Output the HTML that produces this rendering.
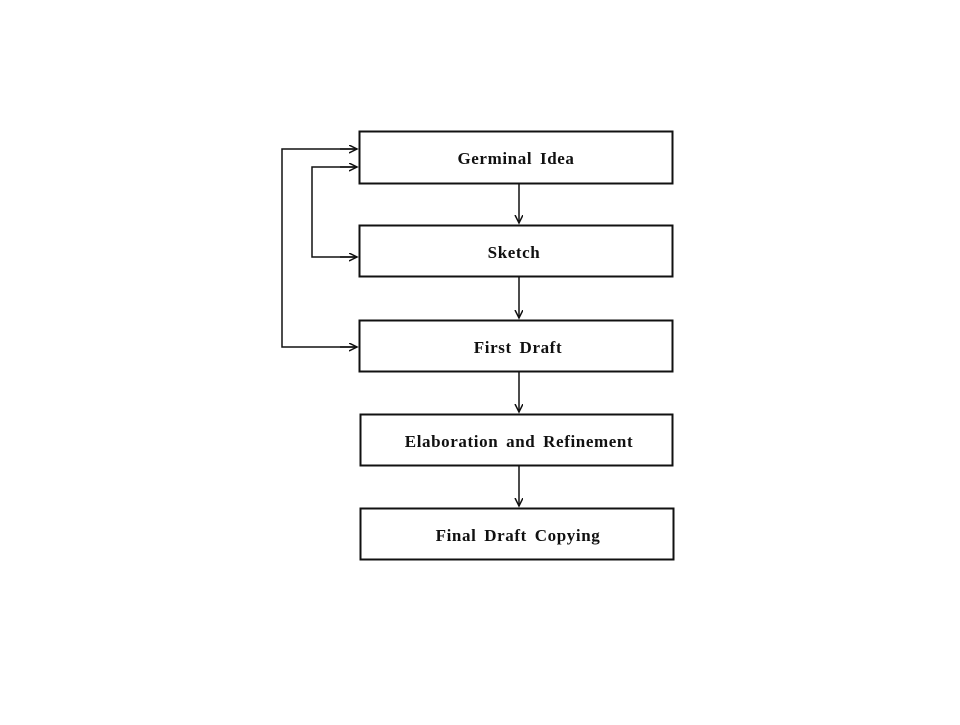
<!DOCTYPE html>
<html><head><style>
body{margin:0;background:#fff;}
text{font-family:"Liberation Serif",serif;font-weight:bold;font-size:17px;letter-spacing:0.6px;word-spacing:3px;fill:#111;}
</style></head><body>
<svg width="960" height="720" viewBox="0 0 960 720" xmlns="http://www.w3.org/2000/svg">
<defs><marker id="a" markerWidth="10" markerHeight="10" refX="8" refY="4" orient="auto" markerUnits="userSpaceOnUse"><path d="M0,0 L8,4 L0,8" fill="none" stroke="#111" stroke-width="1.5"/></marker></defs>
<g fill="none" stroke="#111" stroke-width="2">
<rect x="359.5" y="131.5" width="313" height="52"/>
<rect x="359.5" y="225.5" width="313" height="51"/>
<rect x="359.5" y="320.5" width="313" height="51"/>
<rect x="360.5" y="414.5" width="312" height="51"/>
<rect x="360.5" y="508.5" width="313" height="51"/>
</g>
<g fill="none" stroke="#111" stroke-width="1.5" marker-end="url(#a)">
<line x1="519" y1="184" x2="519" y2="223"/>
<line x1="519" y1="277" x2="519" y2="318"/>
<line x1="519" y1="372" x2="519" y2="412"/>
<line x1="519" y1="466" x2="519" y2="506"/>
<polyline points="357,149 282,149 282,347 357,347" marker-end="none"/>
<line x1="340" y1="149" x2="357" y2="149"/>
<line x1="340" y1="347" x2="357" y2="347"/>
<polyline points="357,167 312,167 312,257 357,257" marker-end="none"/>
<line x1="340" y1="167" x2="357" y2="167"/>
<line x1="340" y1="257" x2="357" y2="257"/>
</g>
<g text-anchor="middle">
<text x="516" y="164">Germinal Idea</text>
<text x="514" y="258">Sketch</text>
<text x="518" y="353">First Draft</text>
<text x="519" y="447">Elaboration and Refinement</text>
<text x="518" y="541">Final Draft Copying</text>
</g>
</svg>
</body></html>
